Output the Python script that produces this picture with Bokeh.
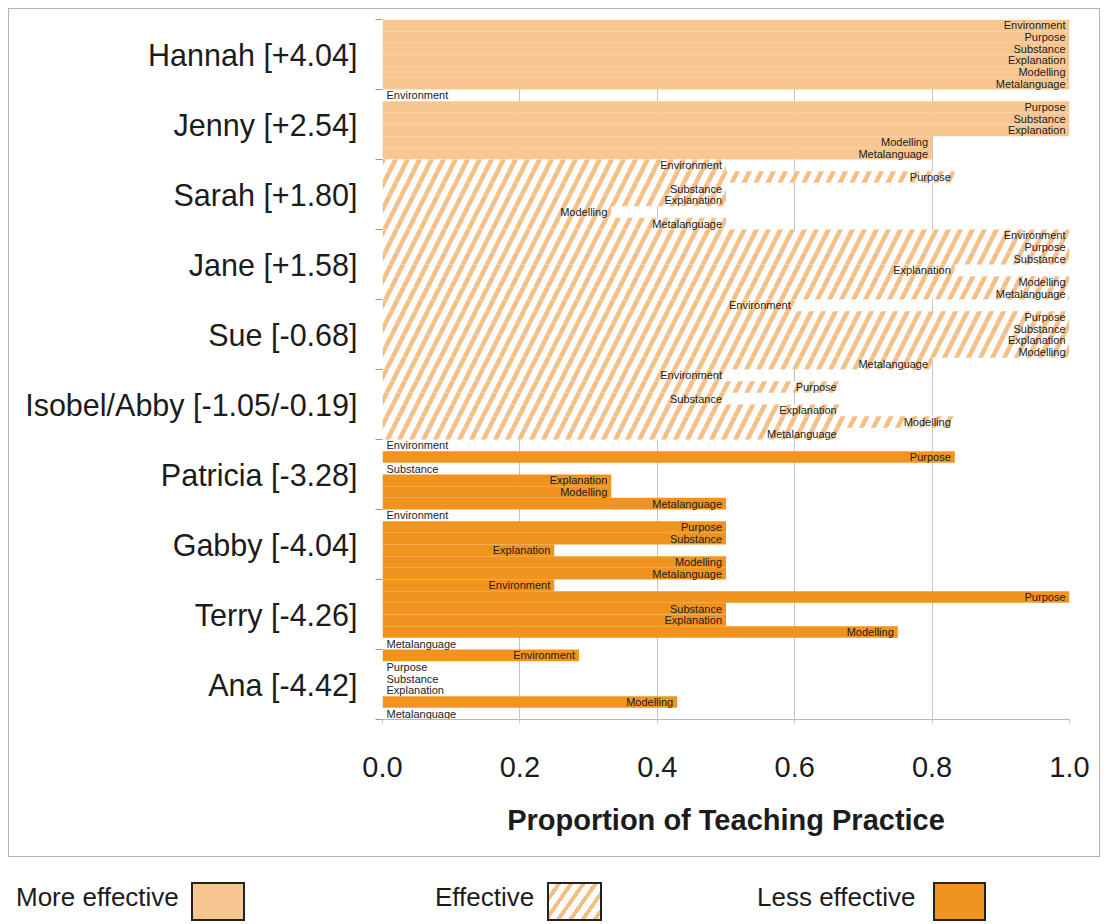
from bokeh.plotting import figure
from bokeh.models import Range1d, FixedTicker, ColumnDataSource, Div
from bokeh.layouts import column
from bokeh.embed import file_html
from bokeh.resources import INLINE
from bokeh.core.properties import value

# ---------------- data ----------------
teachers = ["Hannah [+4.04]", "Jenny [+2.54]", "Sarah [+1.80]", "Jane [+1.58]",
            "Sue [-0.68]", "Isobel/Abby [-1.05/-0.19]", "Patricia [-3.28]",
            "Gabby [-4.04]", "Terry [-4.26]", "Ana [-4.42]"]
practices = ["Environment", "Purpose", "Substance", "Explanation", "Modelling", "Metalanguage"]
effectiveness = ["More effective", "More effective", "Effective", "Effective", "Effective",
                 "Effective", "Less effective", "Less effective", "Less effective", "Less effective"]
hannah = [1.0, 1.0, 1.0, 1.0, 1.0, 1.0]
jenny = [0.0, 1.0, 1.0, 1.0, 0.8, 0.8]
sarah = [0.5, 0.833, 0.5, 0.5, 0.333, 0.5]
jane = [1.0, 1.0, 1.0, 0.833, 1.0, 1.0]
sue = [0.6, 1.0, 1.0, 1.0, 1.0, 0.8]
isobel_abby = [0.5, 0.667, 0.5, 0.667, 0.833, 0.667]
patricia = [0.0, 0.833, 0.0, 0.333, 0.333, 0.5]
gabby = [0.0, 0.5, 0.5, 0.25, 0.5, 0.5]
terry = [0.25, 1.0, 0.5, 0.5, 0.75, 0.0]
ana = [0.286, 0.0, 0.0, 0.0, 0.429, 0.0]
series = [hannah, jenny, sarah, jane, sue, isobel_abby, patricia, gabby, terry, ana]
x_ticks = [0.0, 0.2, 0.4, 0.6, 0.8, 1.0]
legend_labels = ["More effective", "Effective", "Less effective"]

MORE = "#F8C791"
LESS = "#F0941F"
HATCH = "#F5BE85"
FONT = "Liberation Sans"
TXT = "#1c1c1c"
BORDER = "#b4b4b4"

n_groups = len(teachers)
n_sub = len(practices)

rows = {k: [] for k in ["y", "v", "name", "eff"]}
for gi, vals in enumerate(series):
    for si, v in enumerate(vals):
        rows["y"].append(gi + (si + 0.5) / n_sub)
        rows["v"].append(v)
        rows["name"].append(practices[si])
        rows["eff"].append(effectiveness[gi])

def subset(cond):
    idx = [i for i in range(len(rows["y"])) if cond(i)]
    return ColumnDataSource({k: [rows[k][i] for i in idx] for k in rows})

W, H = 1108, 864
p = figure(width=W, height=H, x_range=Range1d(0, 1), y_range=Range1d(n_groups, 0),
           toolbar_location=None, output_backend="svg",
           min_border_left=382, min_border_right=39, min_border_top=19, min_border_bottom=145)
# outer frame line drawn by the host element's background (canvas border area left transparent)
g = f"linear-gradient({BORDER},{BORDER})"
p.styles = {
    "background-color": "white",
    "background-image": ", ".join([g] * 4),
    "background-repeat": "no-repeat",
    "background-position": "8px 8px, 8px 856px, 8px 8px, 1099px 8px",
    "background-size": "1092px 1px, 1092px 1px, 1px 849px, 1px 849px",
}
p.border_fill_color = None
p.outline_line_color = None
p.background_fill_color = "white"

# grid
p.ygrid.visible = False
p.xgrid.grid_line_color = "#c4c4c4"
p.xgrid.grid_line_width = 1

bh = 1.0 / n_sub
src_more = subset(lambda i: rows["eff"][i] == "More effective")
src_eff = subset(lambda i: rows["eff"][i] == "Effective")
src_less = subset(lambda i: rows["eff"][i] == "Less effective")

p.hbar(y="y", left=0, right="v", height=bh, source=src_more, fill_color=MORE, line_color=None)
p.hbar(y="y", left=0, right="v", height=bh, source=src_eff, fill_color="white", line_color=None,
       hatch_pattern="/", hatch_color=HATCH, hatch_scale=24, hatch_weight=4.5)
p.hbar(y="y", left=0, right="v", height=bh, source=src_less, fill_color=LESS, line_color=None)

src_pos = subset(lambda i: rows["v"][i] > 0)
src_zero = subset(lambda i: rows["v"][i] == 0)
p.text(x="v", y="y", text="name", source=src_pos, text_align="right", text_baseline="middle",
       x_offset=-4, text_font=value(FONT), text_font_size="11px", text_color=TXT)
p.text(x="v", y="y", text="name", source=src_zero, text_align="left", text_baseline="middle",
       x_offset=4, text_font=value(FONT), text_font_size="11px", text_color=TXT)

# x axis
p.xaxis.ticker = FixedTicker(ticks=x_ticks)
p.xaxis.major_label_overrides = {t: f"{t:.1f}" for t in x_ticks}
p.xaxis.axis_label = "Proportion of Teaching Practice"
p.xaxis.axis_label_text_font = FONT
p.xaxis.axis_label_text_font_style = "bold"
p.xaxis.axis_label_text_font_size = "29px"
p.xaxis.axis_label_text_color = TXT
p.xaxis.axis_label_standoff = 24
p.xaxis.major_label_text_font = FONT
p.xaxis.major_label_text_font_size = "29px"
p.xaxis.major_label_text_color = TXT
p.xaxis.major_label_standoff = 33
p.xaxis.axis_line_color = "#b8b8b8"
p.xaxis.major_tick_line_color = "#cccccc"
p.xaxis.major_tick_out = 4
p.xaxis.major_tick_in = 0
p.xaxis.minor_tick_line_color = None

# y axis
centers = [i + 0.5 for i in range(n_groups)]
p.yaxis.ticker = FixedTicker(ticks=centers, minor_ticks=list(range(n_groups + 1)))
p.yaxis.major_label_overrides = {c: t for c, t in zip(centers, teachers)}
p.yaxis.major_label_text_font = FONT
p.yaxis.major_label_text_font_size = "30.5px"
p.yaxis.major_label_text_color = TXT
p.yaxis.major_tick_line_color = None
p.yaxis.major_tick_out = 0
p.yaxis.major_label_standoff = 18
p.yaxis.axis_line_color = None
p.yaxis.minor_tick_line_color = "#999999"
p.yaxis.minor_tick_out = 7
p.yaxis.minor_tick_in = 0

# ---------------- legend strip (HTML) ----------------
lg_x = [16, 435, 757]
lg_sw_left = [191, 547, 933]
lg_sw_w = [54, 55, 53]
sw_bg = [
    f"background:{MORE};",
    f"background:repeating-linear-gradient(125deg, #ffffff 0px, #ffffff 6px, {HATCH} 6px, {HATCH} 10px);",
    f"background:{LESS};",
]
parts = []
for i, lab in enumerate(legend_labels):
    parts.append(
        f'<span style="position:absolute;left:{lg_x[i]}px;top:17px;line-height:32px;'
        f'font-family:\'{FONT}\';font-size:26px;color:{TXT};white-space:nowrap;">{lab}</span>')
    parts.append(
        f'<div style="position:absolute;left:{lg_sw_left[i]}px;top:18px;width:{lg_sw_w[i]}px;'
        f'height:39px;box-sizing:border-box;border:2px solid #222;{sw_bg[i]}"></div>')
html = ('<div style="position:relative;width:1109px;height:59px;margin:0;padding:0;">'
        + "".join(parts) + "</div>")
legend = Div(text=html, width=1109, height=59, styles={"margin": "0", "padding": "0"})

layout = column(p, legend, spacing=0)
open("out.html", "w").write(file_html(layout, INLINE))
